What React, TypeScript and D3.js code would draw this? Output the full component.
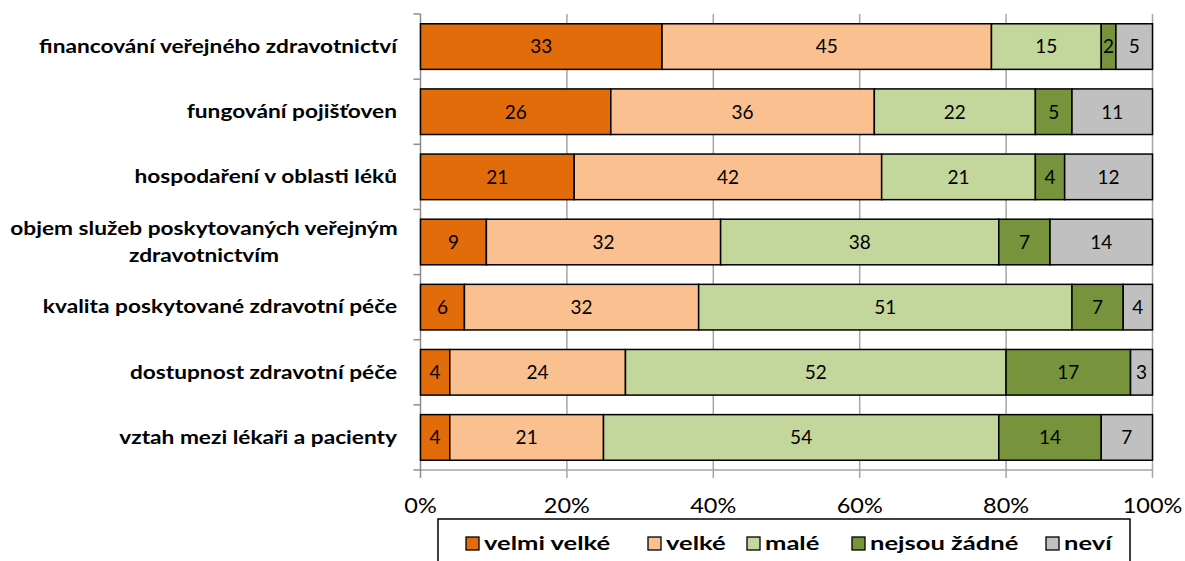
import React from "react";
import * as d3 from "d3";

const categories = [
  "financování veřejného zdravotnictví",
  "fungování pojišťoven",
  "hospodaření v oblasti léků",
  "objem služeb poskytovaných veřejným zdravotnictvím",
  "kvalita poskytované zdravotní péče",
  "dostupnost zdravotní péče",
  "vztah mezi lékaři a pacienty",
];
const categoryLines: string[][] = [
  ["financování veřejného zdravotnictví"],
  ["fungování pojišťoven"],
  ["hospodaření v oblasti léků"],
  ["objem služeb poskytovaných veřejným", "zdravotnictvím"],
  ["kvalita poskytované zdravotní péče"],
  ["dostupnost zdravotní péče"],
  ["vztah mezi lékaři a pacienty"],
];
const seriesNames = ["velmi velké", "velké", "malé", "nejsou žádné", "neví"];
const velmiVelke = [33, 26, 21, 9, 6, 4, 4];
const velke = [45, 36, 42, 32, 32, 24, 21];
const male = [15, 22, 21, 38, 51, 52, 54];
const nejsouZadne = [2, 5, 4, 7, 7, 17, 14];
const nevi = [5, 11, 12, 14, 4, 3, 7];
const tickValues = [0, 20, 40, 60, 80, 100];
const colors = ["#E36C0A", "#FAC090", "#C3D69B", "#77933C", "#C0C0C0"];

const FONT = "Lato, 'Open Sans', sans-serif";

export default function App() {
  const W = 1185, H = 561;
  const x0 = 420.5, x1 = 1152.5, yTop = 14, yBot = 470;
  const x = d3.scaleLinear().domain([0, 100]).range([x0, x1]);
  const y = d3.scaleBand().domain(categories).range([yTop, yBot]).paddingInner(0.3).paddingOuter(0.15);
  const yOuter = d3.scaleBand().domain(categories).range([yTop, yBot]);
  const series = [velmiVelke, velke, male, nejsouZadne, nevi];
  const rows = categories.map((c, i) => {
    let acc = 0;
    return series.map((s, k) => {
      const start = acc;
      acc += s[i];
      return { k, start, end: acc, v: s[i] };
    });
  });

  const legendX = [466, 648, 747, 852, 1046];
  const catSX = 1.26;
  const legSX = 1.31;
  const tickSX = 1.12;

  return (
    <svg width={W} height={H} style={{ position: "absolute", left: 0, top: 0, fontFamily: FONT }}>
      <rect width={W} height={H} fill="#fff" />
      {/* gridlines */}
      {tickValues.slice(1).map((t) => (
        <line key={t} x1={x(t)} x2={x(t)} y1={yTop} y2={yBot + 8} stroke="#a6a6a6" strokeWidth={1.5} />
      ))}
      <line x1={x0} x2={x1} y1={yBot} y2={yBot} stroke="#a6a6a6" strokeWidth={1.5} />
      {/* left axis */}
      <line x1={x0} x2={x0} y1={yTop} y2={yBot + 8} stroke="#8c8c8c" strokeWidth={1.5} />
      {categories.map((c) => (
        <line key={c} x1={x0 - 7} x2={x0} y1={yOuter(c)!} y2={yOuter(c)!} stroke="#8c8c8c" strokeWidth={1.5} />
      ))}
      <line x1={x0 - 7} x2={x0} y1={yBot} y2={yBot} stroke="#8c8c8c" strokeWidth={1.5} />
      {/* bars */}
      {rows.map((segs, i) => (
        <g key={i}>
          {segs.map((s) => (
            <g key={s.k}>
              <rect
                x={x(s.start)}
                y={y(categories[i])!}
                width={x(s.end) - x(s.start)}
                height={y.bandwidth()}
                fill={colors[s.k]}
                stroke="#000"
                strokeWidth={1.5}
              />
              <text
                x={(x(s.start) + x(s.end)) / 2}
                y={y(categories[i])! + y.bandwidth() / 2}
                dy="0.36em"
                textAnchor="middle"
                fontSize={19}
                fill="#000"
              >
                {s.v}
              </text>
            </g>
          ))}
        </g>
      ))}
      {/* category labels */}
      {categoryLines.map((lines, i) => {
        const cy = yOuter(categories[i])! + yOuter.bandwidth() / 2;
        const multi = lines.length > 1;
        const lh = 27;
        return lines.map((l, j) => (
          <text
            key={i + "-" + j}
            transform={`translate(${multi ? 204 : 397},${cy + (j - (lines.length - 1) / 2) * lh}) scale(${catSX},1)`}
            textAnchor={multi ? "middle" : "end"}
            dy="0.35em"
            fontWeight="bold"
            fontSize={18}
            fill="#000"
          >
            {l}
          </text>
        ));
      })}
      {/* x tick labels */}
      {tickValues.map((t) => (
        <text
          key={t}
          transform={`translate(${x(t)},513) scale(${tickSX},1)`}
          textAnchor="middle"
          fontSize={21}
          fill="#000"
        >
          {t}%
        </text>
      ))}
      {/* legend */}
      <rect x={438} y={519} width={692} height={60} fill="#fff" stroke="#000" strokeWidth={1.5} />
      {seriesNames.map((n, k) => (
        <g key={n}>
          <rect x={legendX[k]} y={537} width={13} height={13} fill={colors[k]} stroke="#000" strokeWidth={1.3} />
          <text
            transform={`translate(${legendX[k] + 18},550) scale(${legSX},1)`}
            fontSize={19.5}
            fontWeight="bold"
            fill="#000"
          >
            {n}
          </text>
        </g>
      ))}
    </svg>
  );
}
